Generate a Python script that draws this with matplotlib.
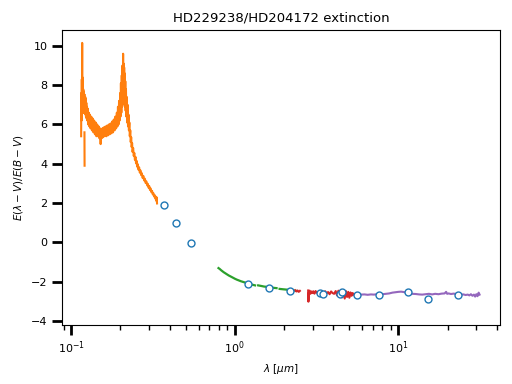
import numpy as np
import matplotlib
matplotlib.use("Agg")
import matplotlib.pyplot as plt

# UV spectrum (orange)
uv_wave = [0.1149, 0.1152, 0.1156, 0.1160, 0.1163, 0.1166, 0.1168, 0.1171, 0.1174,
           0.1177, 0.1180, 0.1183, 0.1186, 0.1189, 0.1192, 0.1195, 0.1198, 0.1201,
           np.nan, 0.1204, 0.1206, np.nan,
           0.1210, 0.1214, 0.1218, 0.1222, 0.1226, 0.1230, 0.1236, 0.1242, 0.1248,
           0.1254, 0.1262, 0.1270, 0.1280, 0.1290, 0.1300, 0.1312, 0.1325, 0.1338,
           0.1352, 0.1366, 0.1380, 0.1395, 0.1410, 0.1425, 0.1440, 0.1455, 0.1470,
           0.1485, 0.1500, 0.1512, 0.1524, 0.1536, 0.1550, 0.1565, 0.1580, 0.1600,
           0.1620, 0.1640, 0.1660, 0.1680, 0.1700, 0.1720, 0.1740, 0.1760, 0.1780,
           0.1800, 0.1820, 0.1840, 0.1860, 0.1880, 0.1900, 0.1915, 0.1930, 0.1945,
           0.1960, 0.1975, 0.1990, 0.2000, 0.2012, 0.2024, 0.2036, 0.2046, 0.2056,
           0.2066, 0.2075, 0.2082, 0.2090, 0.2098, 0.2106, 0.2114, 0.2122, 0.2130,
           0.2140, 0.2150, 0.2160, 0.2172, 0.2184, 0.2196, 0.2210, 0.2224, 0.2238,
           0.2252, 0.2266, 0.2280, 0.2295, 0.2310, 0.2325, 0.2340, 0.2355, 0.2370,
           0.2390, 0.2410, 0.2430, 0.2450, 0.2470, 0.2490, 0.2510, 0.2530, 0.2550,
           0.2575, 0.2600, 0.2625, 0.2650, 0.2675, 0.2700, 0.2730, 0.2760, 0.2790,
           0.2820, 0.2850, 0.2880, 0.2910, 0.2940, 0.2970, 0.3000, 0.3030, 0.3060,
           0.3090, 0.3120, 0.3150, 0.3180, 0.3210, 0.3240, 0.3270, 0.3300, 0.3320,
           0.3335, 0.3345]
uv_val = [5.40, 7.60, 6.20, 8.30, 6.80, 10.15, 6.60, 8.40, 6.90,
          8.00, 6.70, 7.80, 6.60, 7.70, 6.70, 7.50, 6.60, 7.40,
          np.nan, 5.60, 3.90, np.nan,
          7.50, 6.60, 7.40, 6.50, 7.30, 6.40, 7.10, 6.30, 6.90,
          6.20, 6.80, 6.00, 6.60, 5.90, 6.50, 5.80, 6.40, 5.70,
          6.30, 5.60, 6.20, 5.50, 6.10, 5.40, 6.00, 5.40, 5.90,
          5.30, 5.80, 5.00, 5.75, 5.30, 5.80, 5.35, 5.85, 5.40,
          5.90, 5.40, 5.95, 5.45, 6.00, 5.50, 6.05, 5.55, 6.15,
          5.60, 6.25, 5.70, 6.40, 5.80, 6.60, 5.90, 6.90, 6.00,
          7.20, 6.20, 7.60, 6.40, 8.10, 6.60, 8.50, 6.90, 9.00,
          7.20, 9.60, 7.40, 9.10, 7.30, 8.90, 7.00, 8.60, 6.90,
          8.20, 6.70, 7.80, 6.40, 7.40, 6.10, 7.00, 5.90, 6.50,
          5.70, 6.10, 5.40, 5.70, 5.10, 5.35, 4.85, 5.05, 4.60,
          4.80, 4.40, 4.55, 4.20, 4.35, 4.02, 4.15, 3.85, 3.98,
          3.70, 3.82, 3.55, 3.66, 3.42, 3.52, 3.28, 3.38, 3.15,
          3.24, 3.02, 3.10, 2.90, 2.98, 2.78, 2.86, 2.66, 2.74,
          2.55, 2.62, 2.44, 2.50, 2.33, 2.40, 2.22, 2.32, 2.10,
          2.28, 1.98]

# near-IR spectrum (green), gaps at telluric bands
nir_wave = [0.795, 0.81, 0.825, 0.84, 0.855, 0.87, 0.885, 0.90, 0.92, 0.94,
            0.96, 0.98, 1.00, 1.03, 1.06, 1.09, 1.12, 1.15, 1.18, 1.21, 1.24,
            1.27, 1.30, 1.33, np.nan,
            1.39, 1.43, 1.47, 1.51, 1.55, 1.59, 1.63, 1.67, 1.71, 1.75, 1.80,
            np.nan,
            1.88, 1.93, 1.98, 2.04, 2.10, 2.16, 2.22, 2.28, 2.34, 2.38]
nir_val = [-1.31, -1.36, -1.42, -1.47, -1.52, -1.56, -1.60, -1.64, -1.69, -1.73,
           -1.77, -1.81, -1.85, -1.90, -1.94, -1.98, -2.01, -2.04, -2.07, -2.10,
           -2.12, -2.15, -2.17, -2.19, np.nan,
           -2.19, -2.21, -2.23, -2.25, -2.26, -2.28, -2.29, -2.30, -2.31, -2.32,
           -2.33, np.nan,
           -2.37, -2.38, -2.39, -2.40, -2.41, -2.43, -2.44, -2.45, -2.46, -2.47]

# 2.3-5.3 micron spectrum (red)
mir_wave = [2.34, 2.38, 2.42, 2.46, 2.50, np.nan,
            2.81, 2.82, 2.84, 2.87, 2.90, 2.94, 2.98, 3.02, 3.07, 3.12, 3.17,
            3.22, 3.27, 3.32, 3.38, 3.44, 3.50, 3.57, 3.64, 3.72, 3.80, 3.88,
            3.96, 4.05, 4.14, 4.22, 4.30, 4.38, 4.46, 4.54, 4.62, 4.70, 4.78,
            4.86, 4.94, 5.02, 5.10, 5.18, 5.26, 5.32]
mir_val = [-2.44, -2.50, -2.45, -2.52, -2.47, np.nan,
           -2.45, -3.02, -2.55, -2.46, -2.62, -2.50, -2.58, -2.49, -2.61, -2.48,
           -2.57, -2.52, -2.63, -2.50, -2.58, -2.52, -2.62, -2.49, -2.60, -2.53,
           -2.64, -2.50, -2.58, -2.62, -2.48, -2.70, -2.46, -2.74, -2.42, -2.80,
           -2.44, -2.86, -2.48, -2.78, -2.52, -2.82, -2.55, -2.72, -2.58, -2.66]

# IRS spectrum (purple)
irs_wave = [5.90, 6.2, 6.5, 6.8, 7.1, 7.4, 7.7, 8.0, 8.4, 8.8, 9.2, 9.6, 10.0,
            10.4, 10.8, 11.2, 11.7, 12.2, 12.8, 13.4, 14.0, 14.7, 15.4, 16.1,
            16.8, 17.6, 18.4, 19.2, 19.6, 19.9, 20.3, 21.0, 21.8, 22.6, 23.4,
            24.2, 25.0, 25.8, 26.6, 27.2, 27.8, 28.4, 29.0, 29.5, 30.0, 30.5,
            31.0, 31.4]
irs_val = [-2.66, -2.65, -2.67, -2.65, -2.66, -2.64, -2.66, -2.64, -2.62, -2.60,
           -2.56, -2.54, -2.52, -2.51, -2.53, -2.56, -2.60, -2.62, -2.63, -2.65,
           -2.66, -2.64, -2.62, -2.65, -2.62, -2.64, -2.61, -2.60, -2.52, -2.62,
           -2.60, -2.63, -2.61, -2.63, -2.64, -2.66, -2.65, -2.68, -2.66, -2.70,
           -2.64, -2.72, -2.66, -2.76, -2.64, -2.74, -2.56, -2.66]

# photometry (open circles)
phot_wave = [0.367, 0.434, 0.542, 1.21, 1.63, 2.17, 3.31, 3.47, 4.42, 4.55, 5.59,
             7.59, 11.5, 15.2, 23.1]
phot_val = [1.88, 0.96, -0.05, -2.10, -2.31, -2.46, -2.56, -2.61, -2.61, -2.51,
            -2.70, -2.66, -2.51, -2.87, -2.66]

fig = plt.figure(figsize=(5.12, 3.84), dpi=100)
ax = fig.add_axes([0.121, 0.154, 0.856, 0.768])

ax.plot(uv_wave, uv_val, color="C1", lw=1.5)
ax.plot(nir_wave, nir_val, color="C2", lw=1.6)
ax.plot(mir_wave, mir_val, color="C3", lw=1.5)
ax.plot(irs_wave, irs_val, color="C4", lw=1.5)
ax.plot(phot_wave, phot_val, "o", color="C0", mfc="white", ms=5, mew=1.0)

ax.set_xscale("log")
ax.set_xlim(0.0877, 42.0)
ax.set_ylim(-4.2, 10.81)
ax.set_yticks([-4, -2, 0, 2, 4, 6, 8, 10])

ax.set_xlabel(r"$\lambda$ [$\mu m$]", fontsize=7.5)
ax.set_ylabel(r"$E(\lambda - V)/E(B - V)$", fontsize=7.5)
ax.set_title("HD229238/HD204172 extinction", fontsize=9.5)

ax.tick_params(axis="both", which="major", width=2, length=7, labelsize=8)
ax.tick_params(axis="both", which="minor", width=1, length=3.5)

fig.savefig("out.png", dpi=100)
